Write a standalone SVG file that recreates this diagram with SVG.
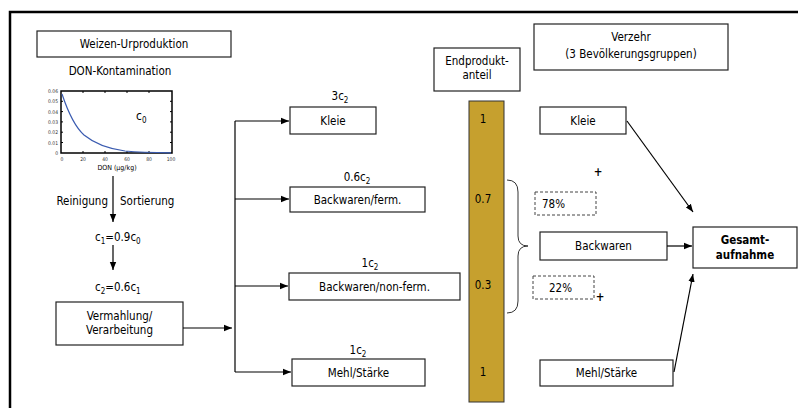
<svg xmlns="http://www.w3.org/2000/svg" width="798" height="408" viewBox="0 0 798 408">
<defs>
<style>
text{font-family:"DejaVu Sans Condensed","DejaVu Sans",Verdana,sans-serif;font-size:11.5px;fill:#000}
.c{text-anchor:middle}
.box{fill:#fff;stroke:#222;stroke-width:1.2}
.dash{fill:#fff;stroke:#444;stroke-width:1;stroke-dasharray:3 2}
.ln{fill:none;stroke:#000;stroke-width:1.2}
.tk text{font-size:5px;fill:#333}
.b{font-weight:bold}
.sub{font-size:8px}
</style>
<marker id="ah" viewBox="0 0 10 10" refX="10" refY="5" markerWidth="8" markerHeight="8" markerUnits="userSpaceOnUse" orient="auto"><path d="M0,1 L10,5 L0,9 z" fill="#000"/></marker>
</defs>
<rect width="798" height="408" fill="#fff"/>
<path d="M10,408 V12 H798" fill="none" stroke="#000" stroke-width="2.5"/>

<g id="weizen"><rect class="box" x="37" y="31" width="194" height="26"/><text class="c" x="134" y="48">Weizen-Urproduktion</text></g>
<g id="don"><text class="c" x="120" y="75">DON-Kontamination</text></g>
<g id="chart">
<rect x="61" y="91" width="111" height="62" fill="#fff" stroke="#000" stroke-width="1.5"/>
<path d="M61,101.3h2M61,111.6h2M61,121.9h2M61,132.2h2M61,142.5h2M172,101.3h-2M172,111.6h-2M172,121.9h-2M172,132.2h-2M172,142.5h-2M83,153v-2M105,153v-2M127,153v-2M149,153v-2M83,91v2M105,91v2M127,91v2M149,91v2" stroke="#000" stroke-width="1"/>
<path d="M62,94 C68,112 74,126 84,135 C95,144 110,149 125,151 C140,152.3 155,152.6 171,152.8" fill="none" stroke="#3a5bb0" stroke-width="1.2"/>
<g class="tk" text-anchor="end"><text x="58" y="93">0.06</text><text x="58" y="103">0.05</text><text x="58" y="113.5">0.04</text><text x="58" y="124">0.03</text><text x="58" y="134">0.02</text><text x="58" y="144.5">0.01</text><text x="58" y="155">0</text></g>
<g class="tk" text-anchor="middle"><text x="62" y="161">0</text><text x="83" y="161">20</text><text x="105" y="161">40</text><text x="127" y="161">60</text><text x="149" y="161">80</text><text x="171" y="161">100</text></g>
<text class="c" x="117" y="170" style="font-size:7px">DON (µg/kg)</text>
<text x="136" y="120" style="font-size:12px">c<tspan class="sub" dy="3">0</tspan></text>
</g>
<g id="reinigung"><text x="108" y="205" text-anchor="end">Reinigung</text><text x="120" y="205">Sortierung</text></g>
<g id="c1"><text x="95" y="241">c<tspan class="sub" dy="3">1</tspan><tspan dy="-3">=0.9c</tspan><tspan class="sub" dy="3">0</tspan></text></g>
<g id="c2"><text x="95" y="291">c<tspan class="sub" dy="3">2</tspan><tspan dy="-3">=0.6c</tspan><tspan class="sub" dy="3">1</tspan></text></g>
<g id="vermahlung"><rect class="box" x="56" y="302" width="127" height="43"/><text class="c" x="119.5" y="320">Vermahlung/</text><text class="c" x="119.5" y="334">Verarbeitung</text></g>

<g id="kleie1"><text class="c" x="340" y="100">3c<tspan class="sub" dy="3">2</tspan></text><rect class="box" x="290" y="107" width="86" height="27"/><text class="c" x="333" y="125">Kleie</text></g>
<g id="bwferm"><text class="c" x="357" y="181">0.6c<tspan class="sub" dy="3">2</tspan></text><rect class="box" x="290" y="187" width="135" height="25"/><text class="c" x="357.5" y="204">Backwaren/ferm.</text></g>
<g id="bwnonferm"><text class="c" x="370" y="267">1c<tspan class="sub" dy="3">2</tspan></text><rect class="box" x="289" y="273" width="171" height="27"/><text class="c" x="374.5" y="291">Backwaren/non-ferm.</text></g>
<g id="mehl1"><text class="c" x="358" y="354">1c<tspan class="sub" dy="3">2</tspan></text><rect class="box" x="292" y="359" width="133" height="27"/><text class="c" x="358.5" y="377">Mehl/Stärke</text></g>

<g id="endprodukt"><rect class="box" x="434" y="48" width="86" height="43"/><text class="c" x="477" y="65">Endprodukt-</text><text class="c" x="477" y="79">anteil</text></g>
<g id="bar"><rect x="469" y="101" width="35" height="301" fill="#c6a02e" stroke="#333" stroke-width="1"/>
<text class="c" x="483" y="123">1</text><text class="c" x="483" y="203">0.7</text><text class="c" x="483" y="289">0.3</text><text class="c" x="483" y="376">1</text></g>

<g id="verzehr"><rect class="box" x="534" y="24" width="194" height="46"/><text class="c" x="631" y="41">Verzehr</text><text class="c" x="631" y="58">(3 Bevölkerungsgruppen)</text></g>
<g id="kleie2"><rect class="box" x="540" y="107" width="86" height="27"/><text class="c" x="583" y="125">Kleie</text></g>
<g id="p78"><rect class="dash" x="535" y="192" width="61" height="23"/><text x="542" y="208">78%</text></g>
<g id="backwaren"><rect class="box" x="540" y="232" width="127" height="28"/><text class="c" x="603.5" y="250">Backwaren</text></g>
<g id="p22"><rect class="dash" x="533" y="276" width="61" height="23"/><text x="549" y="292">22%</text></g>
<g id="mehl2"><rect class="box" x="540" y="360" width="133" height="26"/><text class="c" x="606.5" y="377">Mehl/Stärke</text></g>
<g id="gesamt"><rect class="box" x="693" y="227" width="104" height="41"/><text class="c b" x="745" y="244">Gesamt-</text><text class="c b" x="745" y="259">aufnahme</text></g>
<g id="plus"><text class="c b" x="598" y="176">+</text><text class="c b" x="600" y="301">+</text></g>

<g id="connectors">
<path class="ln" d="M113,176 V222" marker-end="url(#ah)"/>
<path class="ln" d="M113,245 V270" marker-end="url(#ah)"/>
<path class="ln" d="M183,328 H232" marker-end="url(#ah)"/>
<path class="ln" d="M235,121 V372"/>
<path class="ln" d="M235,121 H289" marker-end="url(#ah)"/>
<path class="ln" d="M235,199 H289" marker-end="url(#ah)"/>
<path class="ln" d="M235,286 H288" marker-end="url(#ah)"/>
<path class="ln" d="M235,372 H291" marker-end="url(#ah)"/>
<path d="M507,180 Q518,180 518,192 L518,236 Q518,246 528,246 Q518,246 518,256 L518,301 Q518,313 507,313" fill="none" stroke="#333" stroke-width="1"/>
<path class="ln" d="M627,121 L693,212" marker-end="url(#ah)" stroke-width="1"/>
<path class="ln" d="M667,246 H692" marker-end="url(#ah)"/>
<path class="ln" d="M674,372 L693,274" marker-end="url(#ah)" stroke-width="1"/>
</g>
</svg>
